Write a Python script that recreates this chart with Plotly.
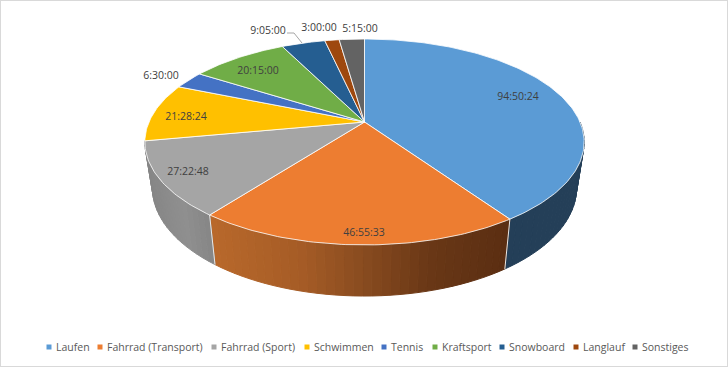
import math
import plotly.graph_objects as go

# ---- data ----
categories = ["Laufen", "Fahrrad (Transport)", "Fahrrad (Sport)", "Schwimmen", "Tennis",
              "Kraftsport", "Snowboard", "Langlauf", "Sonstiges"]
durations = ["94:50:24", "46:55:33", "27:22:48", "21:28:24", "6:30:00",
             "20:15:00", "9:05:00", "3:00:00", "5:15:00"]
colors = ["#5b9bd5", "#ed7d31", "#a5a5a5", "#ffc000", "#4472c4",
          "#70ad47", "#255e91", "#9e480e", "#636363"]

hours = [int(d.split(":")[0]) + int(d.split(":")[1]) / 60 + int(d.split(":")[2]) / 3600 for d in durations]
total = sum(hours)

# ---- perspective of the pie (pixel-scaled axes) ----
CX = 364.5
TOP = dict(R=215.5, b=99.1, cy=122, k=0.194)
BOT = dict(R=208, b=104, cy=167, k=0.194)

def project(theta, p):
    u, v = math.sin(theta), -math.cos(theta)
    d = 1 - p["k"] * v
    return CX + p["R"] * u / d, p["cy"] + p["b"] * v / d

def lerp_color(stops, x):
    if x <= stops[0][0]:
        return stops[0][1]
    for (x0, c0), (x1, c1) in zip(stops, stops[1:]):
        if x <= x1:
            t = (x - x0) / (x1 - x0)
            return "rgb(%d,%d,%d)" % tuple(
                round(int(c0[i:i + 2], 16) * (1 - t) + int(c1[i:i + 2], 16) * t) for i in (1, 3, 5))
    return stops[-1][1]

side_shades = {
    0: [(0, "#243f58"), (728, "#243f58")],
    1: [(214, "#b8682b"), (300, "#a65c26"), (364, "#884b1f"), (430, "#693716"), (505, "#5b2e12")],
    2: [(146, "#858585"), (185, "#8f8f8f"), (214, "#858585")],
}

edges = [0.0]
for h in hours:
    edges.append(edges[-1] + h / total * 2 * math.pi)

fig = go.Figure()

def poly(xs, ys, fill, line=None, width=1, name=None):
    fig.add_trace(go.Scatter(x=xs, y=ys, mode="lines", fill="toself", fillcolor=fill,
                             line=dict(color=line or fill, width=width),
                             showlegend=False, hoverinfo="text" if name else "skip", text=name))

# side wall (only the front half shows; the top face hides the rest)
FRONT_START, FRONT_END = math.radians(90), math.radians(272)
for i in range(len(hours)):
    if i not in side_shades:
        continue
    a0, a1 = max(edges[i], FRONT_START), min(edges[i + 1], FRONT_END)
    n = max(2, int((a1 - a0) / math.radians(2)))
    for s in range(n):
        t0 = a0 + (a1 - a0) * s / n
        t1 = a0 + (a1 - a0) * (s + 1) / n
        p = [project(t0, TOP), project(t1, TOP), project(t1, BOT), project(t0, BOT), project(t0, TOP)]
        xm = sum(q[0] for q in p[:4]) / 4
        poly([q[0] for q in p], [q[1] for q in p], lerp_color(side_shades[i], xm))

# wall separators
for i in (1, 2):
    p, q = project(edges[i], TOP), project(edges[i], BOT)
    fig.add_trace(go.Scatter(x=[p[0], q[0]], y=[p[1], q[1]], mode="lines",
                             line=dict(color="#e8e8e8", width=1), showlegend=False, hoverinfo="skip"))

# top face
for i in range(len(hours)):
    n = max(4, int((edges[i + 1] - edges[i]) / math.radians(1)))
    arc = [project(edges[i] + (edges[i + 1] - edges[i]) * s / n, TOP) for s in range(n + 1)]
    xs = [CX] + [q[0] for q in arc] + [CX]
    ys = [TOP["cy"]] + [q[1] for q in arc] + [TOP["cy"]]
    poly(xs, ys, colors[i], line="#ffffff", width=0.8, name=f"{categories[i]}: {durations[i]}")

# leader line of the 9:05:00 label
fig.add_trace(go.Scatter(x=[287, 294, 302], y=[33, 33, 43], mode="lines",
                         line=dict(color="#a6a6a6", width=1), showlegend=False, hoverinfo="skip"))

# data labels
label_x = [518, 364, 188, 186, 161, 258, 268, 319, 360]
label_y = [97, 233, 172, 117, 76, 71, 31, 28, 29]
fig.add_trace(go.Scatter(x=label_x, y=label_y, mode="text", text=durations, textposition="middle center",
                         textfont=dict(family="Open Sans", size=10.5, color="#404040"),
                         showlegend=False, hoverinfo="skip"))

# legend row
legend_marker_x = [49, 100, 214, 307, 384, 435, 502, 576, 635]
legend_y = 348
for i, c in enumerate(categories):
    fig.add_trace(go.Scatter(x=[legend_marker_x[i]], y=[legend_y - 1], mode="markers",
                             marker=dict(symbol="square", size=5, color=colors[i]),
                             showlegend=False, hoverinfo="skip"))
    fig.add_trace(go.Scatter(x=[legend_marker_x[i] + 7], y=[legend_y], mode="text", text=[c],
                             textposition="middle right",
                             textfont=dict(family="Open Sans", size=10.5, color="#595959"),
                             showlegend=False, hoverinfo="skip"))

fig.update_layout(
    width=728, height=367, autosize=False,
    margin=dict(l=0, r=0, t=0, b=0),
    paper_bgcolor="#ffffff", plot_bgcolor="#ffffff",
    xaxis=dict(range=[0, 728], visible=False, fixedrange=True),
    yaxis=dict(range=[367, 0], visible=False, fixedrange=True),
    shapes=[dict(type="rect", xref="paper", yref="paper", x0=0, y0=0, x1=1, y1=1,
                 line=dict(color="#d9d9d9", width=2), fillcolor="rgba(0,0,0,0)", layer="above")],
)
fig.write_html("out.html", config=dict(displayModeBar=False),
               post_script="document.body.style.margin='0';document.body.style.overflow='hidden';")
